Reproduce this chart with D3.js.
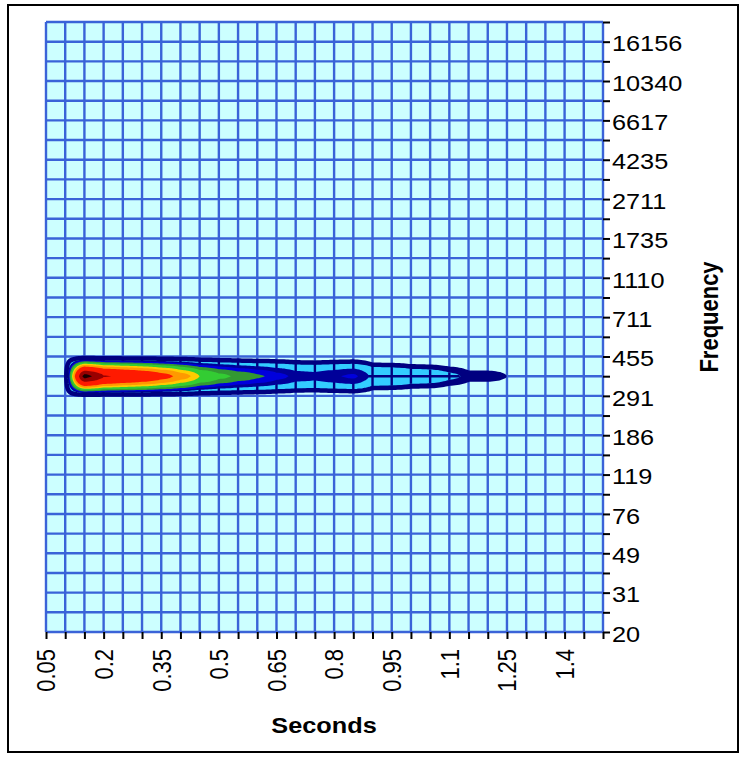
<!DOCTYPE html>
<html>
<head>
<meta charset="utf-8">
<script src="https://cdn.jsdelivr.net/npm/d3@7"></script>
<style>
  body { margin: 0; background: #fff; }
  svg { display: block; font-family: Arial, "Liberation Sans", sans-serif; }
</style>
</head>
<body>
<div id="chart"></div>
<script>
// time categories (x) and frequency series (y)
const seconds = [0.05, 0.1, 0.15, 0.2, 0.25, 0.3, 0.35, 0.4, 0.45, 0.5,
                 0.55, 0.6, 0.65, 0.7, 0.75, 0.8, 0.85, 0.9, 0.95, 1,
                 1.05, 1.1, 1.15, 1.2, 1.25, 1.3, 1.35, 1.4, 1.45, 1.5];
const frequency = [20, 25, 31, 39, 49, 61, 76, 95, 119, 149, 186, 233, 291, 364, 455, 568,
                   711, 889, 1110, 1388, 1735, 2169, 2711, 3389, 4235, 5294, 6617, 8271,
                   10340, 12925, 16156, 20195];

// levels (all other frequency rows are empty)
const level364 = [0, 3, 88, 76, 72, 68, 62, 54, 44, 38, 34, 31, 27, 23, 22, 24, 26, 17.9, 17.5, 15.5,
                  15, 13, 10.8, 10.8, 9.8, 3, 0, 0, 0, 0];
const level455 = [0, 0, 0, 0, 0, 0, 0, 0, 0, 0, 0, 0, 1, 1, 1, 1, 1, 0, 0, 0,
                  0, 0, 0, 0, 0, 0, 0, 0, 0, 0];
const level291 = [0, 1, 3, 3, 3, 3, 3, 3, 2, 2, 2, 2, 2, 2, 2, 2, 2, 1, 1, 1,
                  1, 0, 0, 0, 0, 0, 0, 0, 0, 0];

// surface bands
const bandLevels = [10, 12, 20, 25, 30, 36, 44, 50, 58, 75, 85];
const bandColors = ["#000080", "#33ccff", "#000099", "#0000dd", "#339933", "#33cc33",
                    "#ffcc00", "#ff9900", "#ff1a00", "#990000", "#1a0000"];

const width = 746, height = 758;
const plot = { left: 46, right: 603, top: 22, bottom: 632 };
const stretch = 1.15;

const svg = d3.select("#chart").append("svg")
  .attr("width", width)
  .attr("height", height);

svg.append("rect")
  .attr("x", 8).attr("y", 5)
  .attr("width", 730).attr("height", 747)
  .attr("fill", "#fff")
  .attr("stroke", "#000")
  .attr("stroke-width", 2);

const x = d3.scalePoint().domain(seconds).range([plot.left, plot.right]);
const y = d3.scalePoint().domain(frequency).range([plot.bottom, plot.top]);

// value matrix, one row per frequency
const rows = frequency.map(f =>
  f === 364 ? level364 : f === 455 ? level455 : f === 291 ? level291 : seconds.map(() => 0));

// peak-preserving interpolation between two grid values (surface keeps a plateau
// around the higher point and falls off near the lower one)
function blend(a, b, t) {
  if (a >= b) return b + (a - b) * (1 - Math.pow(t, 1.5));
  return a + (b - a) * (1 - Math.pow(1 - t, 1.5));
}

// resample the surface so the contours follow the cell interpolation
const sub = 10;
const nx = (seconds.length - 1) * sub + 1;
const ny = (frequency.length - 1) * sub + 1;
const values = new Float64Array(nx * ny);
for (let j = 0; j < ny; j++) {
  const rp = (ny - 1 - j) / sub;
  const r0 = Math.floor(rp), r1 = Math.min(r0 + 1, frequency.length - 1), fr = rp - r0;
  for (let i = 0; i < nx; i++) {
    const cp = i / sub;
    const c0 = Math.floor(cp), c1 = Math.min(c0 + 1, seconds.length - 1), fc = cp - c0;
    const a = blend(rows[r0][c0], rows[r0][c1], fc);
    const b = blend(rows[r1][c0], rows[r1][c1], fc);
    values[j * nx + i] = blend(a, b, fr);
  }
}

const bands = d3.contours().size([nx, ny]).thresholds(bandLevels)(values);

const xf = d3.scaleLinear().domain([0.5, nx - 0.5]).range([plot.left, plot.right]);
const yf = d3.scaleLinear().domain([0.5, ny - 0.5]).range([plot.top, plot.bottom]);
const path = d3.geoPath(d3.geoTransform({
  point(px, py) { this.stream.point(xf(px), yf(py)); }
}));

const defs = svg.append("defs");
defs.append("clipPath").attr("id", "plotClip")
  .append("rect")
  .attr("x", plot.left).attr("y", plot.top)
  .attr("width", plot.right - plot.left).attr("height", plot.bottom - plot.top);
defs.append("clipPath").attr("id", "skyClip")
  .append("path").attr("d", path(bands[1]));

const g = svg.append("g");

g.append("rect")
  .attr("x", plot.left).attr("y", plot.top)
  .attr("width", plot.right - plot.left).attr("height", plot.bottom - plot.top)
  .attr("fill", "#ccffff");

function drawGrid(sel, color) {
  sel.selectAll("line.v")
    .data(seconds)
    .join("line")
    .attr("class", "v")
    .attr("x1", d => x(d)).attr("x2", d => x(d))
    .attr("y1", plot.top).attr("y2", plot.bottom)
    .attr("stroke", color).attr("stroke-width", 2.4);
  sel.selectAll("line.h")
    .data(frequency)
    .join("line")
    .attr("class", "h")
    .attr("x1", plot.left).attr("x2", plot.right)
    .attr("y1", d => y(d)).attr("y2", d => y(d))
    .attr("stroke", color).attr("stroke-width", 2.4);
}

drawGrid(g.append("g"), "#3a63d8");

const surf = g.append("g").attr("clip-path", "url(#plotClip)");
bands.forEach((b, i) => {
  surf.append("path")
    .attr("d", path(b))
    .attr("fill", bandColors[i]);
  if (i === 1) {
    drawGrid(surf.append("g").attr("clip-path", "url(#skyClip)"), "#000080");
  }
});

// dark rim of the lowest band
surf.append("path")
  .attr("d", path(bands[0]))
  .attr("fill", "none")
  .attr("stroke", bandColors[0])
  .attr("stroke-width", 4.5)
  .attr("stroke-linejoin", "round");

// x axis
const xAxis = svg.append("g")
  .attr("transform", `translate(0,${plot.bottom})`)
  .call(d3.axisBottom(x).tickSize(7).tickFormat((d, i) => i % 3 === 0 ? String(d) : ""));
xAxis.select(".domain").remove();
xAxis.selectAll(".tick line").attr("stroke", "#000").attr("stroke-width", 2);
xAxis.selectAll(".tick text")
  .attr("x", null).attr("y", null)
  .attr("dy", "0.35em")
  .attr("text-anchor", "end")
  .attr("transform", `translate(0,17) scale(${stretch},1) rotate(-90)`)
  .attr("font-size", 22)
  .attr("fill", "#000");

// y axis
const yAxis = svg.append("g")
  .attr("transform", `translate(${plot.right},0)`)
  .call(d3.axisRight(y).tickSize(7).tickFormat((d, i) => i % 2 === 0 ? String(d) : ""));
yAxis.select(".domain").remove();
yAxis.selectAll(".tick line").attr("stroke", "#000").attr("stroke-width", 2);
yAxis.selectAll(".tick text")
  .attr("x", 0)
  .attr("dy", "0.42em")
  .attr("transform", `translate(9,0) scale(${stretch},1)`)
  .attr("font-size", 22)
  .attr("fill", "#000");

// titles
svg.append("text")
  .attr("transform", `translate(324,733) scale(${stretch},1)`)
  .attr("text-anchor", "middle")
  .attr("font-size", 22)
  .attr("font-weight", "bold")
  .text("Seconds");

svg.append("text")
  .attr("transform", `translate(718,317) scale(${stretch},1) rotate(-90)`)
  .attr("text-anchor", "middle")
  .attr("font-size", 22)
  .attr("font-weight", "bold")
  .text("Frequency");
</script>
</body>
</html>
